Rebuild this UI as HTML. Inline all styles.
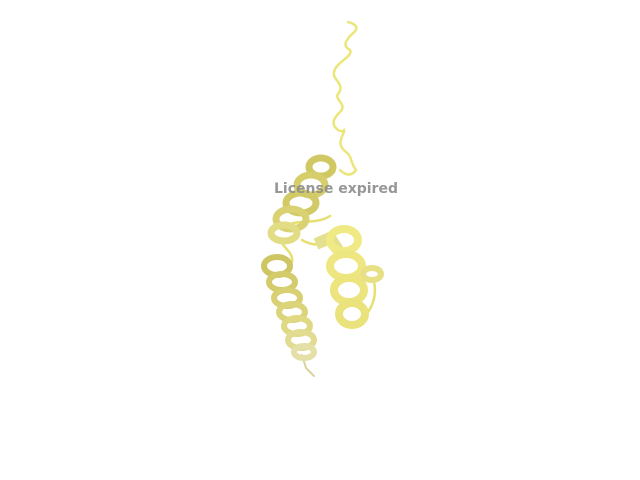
<!DOCTYPE html>
<html><head><meta charset="utf-8"><style>
html,body{margin:0;padding:0;background:#fff;width:640px;height:480px;overflow:hidden}
svg{display:block}
</style></head><body>
<svg width="640" height="480" viewBox="0 0 640 480">
<g fill="none" stroke-linecap="round" stroke-linejoin="round">
<path d="M348,22 C356,24 360,28 352,34 C346,40 342,46 350,50 C354,56 336,62 334,72 C332,80 346,84 338,94 C334,100 348,104 340,112 C334,118 330,124 338,130 C346,134 344,126 344,132 C340,140 338,146 346,152 C352,156 350,162 356,170 C352,176 346,176 340,170" stroke="#ece678" stroke-width="2.5"/>
<path d="M290,224 C300,220 318,224 330,216 M280,238 C282,248 294,252 292,262 M302,240 C312,246 322,246 332,240 M358,322 C368,316 378,300 374,282" stroke="#e6e070" stroke-width="2.5"/>
<path d="M302,355 L306,368 L314,376" stroke="#d8d4a0" stroke-width="2"/>
</g>
<g fill="none" stroke-width="7">
<ellipse cx="321" cy="167" rx="12" ry="9" stroke="#d0c862"/>
<ellipse cx="311" cy="185" rx="14" ry="10" stroke="#d6ce6a"/>
<ellipse cx="301" cy="203" rx="15" ry="10" stroke="#d2ca66"/>
<ellipse cx="291" cy="219" rx="15" ry="10" stroke="#dad272"/>
<ellipse cx="284" cy="233" rx="13" ry="8" stroke="#e2dc84"/>
</g>
<g fill="none" stroke-width="6">
<ellipse cx="277" cy="266" rx="13" ry="9" stroke="#cec662"/>
<ellipse cx="282" cy="282" rx="13" ry="8" stroke="#d4cc6a"/>
<ellipse cx="287" cy="298" rx="13" ry="8" stroke="#d8d072"/>
<ellipse cx="292" cy="312" rx="13" ry="8" stroke="#dcd47a"/>
<ellipse cx="297" cy="326" rx="13" ry="8" stroke="#e0d984"/>
<ellipse cx="301" cy="340" rx="13" ry="8" stroke="#e2dc92"/>
<ellipse cx="304" cy="352" rx="10" ry="6" stroke="#e4e0a8"/>
</g>
<g fill="none" stroke-width="8">
<path d="M316,244 L330,238 L338,250" stroke="#e4e090" stroke-width="12"/>
<ellipse cx="344" cy="240" rx="14" ry="11" stroke="#f0ea84"/>
<ellipse cx="346" cy="266" rx="16" ry="12" stroke="#eee680"/>
<ellipse cx="349" cy="290" rx="15" ry="12" stroke="#ece47c"/>
<ellipse cx="352" cy="314" rx="13" ry="11" stroke="#eae27a"/>
<ellipse cx="372" cy="274" rx="9" ry="6" stroke="#e8e084" stroke-width="6"/>
</g>
<text x="336" y="193" text-anchor="middle" font-family="'DejaVu Sans','Liberation Sans',sans-serif" font-weight="bold" font-size="14" fill="#8c8c8c" fill-opacity="0.9">License expired</text>
</svg>
</body></html>
